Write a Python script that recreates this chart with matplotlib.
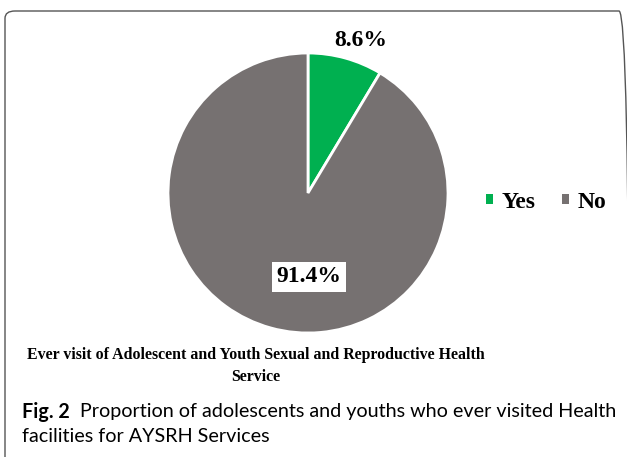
import matplotlib
matplotlib.use("Agg")
import matplotlib.pyplot as plt
from matplotlib.patches import FancyBboxPatch

# data
labels = ["Yes", "No"]
shares = [8.6, 91.4]
colors = ["#00B050", "#767171"]
title = "Ever visit of Adolescent and Youth Sexual and Reproductive Health\nService"
caption_bold = "Fig. 2"
caption_lines = ["Proportion of adolescents and youths who ever visited Health",
                 "facilities for AYSRH Services"]

W, H = 627, 457
fig = plt.figure(figsize=(W / 100, H / 100), dpi=100)

def fx(x):
    return x / W

def fy(y):
    return 1 - y / H

# frame around the figure (top + left with rounded corners)
frame = FancyBboxPatch((fx(5), fy(470)), fx(624), (470 - 11) / H,
                       boxstyle="round,pad=0,rounding_size=0.016",
                       transform=fig.transFigure, fill=False,
                       edgecolor="#555555", linewidth=1.0, clip_on=False)
fig.patches.append(frame)

# pie
cx, cy, r = 308, 193, 140
ax = fig.add_axes([fx(cx - r), fy(cy + r), 2 * r / W, 2 * r / H])
wedges, _ = ax.pie(shares, colors=colors, startangle=90, counterclock=False,
                   wedgeprops=dict(edgecolor="white", linewidth=2))
ax.set_aspect("equal")
ax.set_xlim(-1, 1)
ax.set_ylim(-1, 1)
ax.axis("off")

serif = "Liberation Serif"
fig.text(fx(361), fy(40), f"{shares[0]}%", ha="center", va="center",
         fontsize=17, fontweight="bold", family=serif)
fig.text(fx(309), fy(277), f"{shares[1]}%", ha="center", va="center",
         fontsize=17, fontweight="bold", family=serif,
         bbox=dict(boxstyle="square,pad=0.2", facecolor="white", edgecolor="none"))

# legend
leg = fig.legend(wedges, labels, loc="center", bbox_to_anchor=(fx(546), fy(202)),
                 ncol=2, frameon=False, handlelength=0.3, handleheight=0.3,
                 handletextpad=0.38, columnspacing=1.1, borderpad=0, borderaxespad=0,
                 prop=dict(family=serif, weight="bold", size=17))
for h in leg.legend_handles:
    h.set_edgecolor("none")

# chart title
fig.text(fx(256), fy(366), title, ha="center", va="center", fontsize=11.4,
         fontweight="bold", family=serif, linespacing=1.5)

# caption
fig.canvas.draw()
rend = fig.canvas.get_renderer()
cap_font = "Lato"
t1 = fig.text(fx(22), fy(412), caption_bold, ha="left", va="center",
              fontsize=14.2, fontweight="bold", family=cap_font)
bb = t1.get_window_extent(rend)
fig.text(fx(bb.x1 + 10), fy(412), caption_lines[0], ha="left", va="center",
         fontsize=14.2, family=cap_font)
fig.text(fx(22), fy(437), caption_lines[1], ha="left", va="center",
         fontsize=14.2, family=cap_font)

fig.savefig("out.png", dpi=100)
